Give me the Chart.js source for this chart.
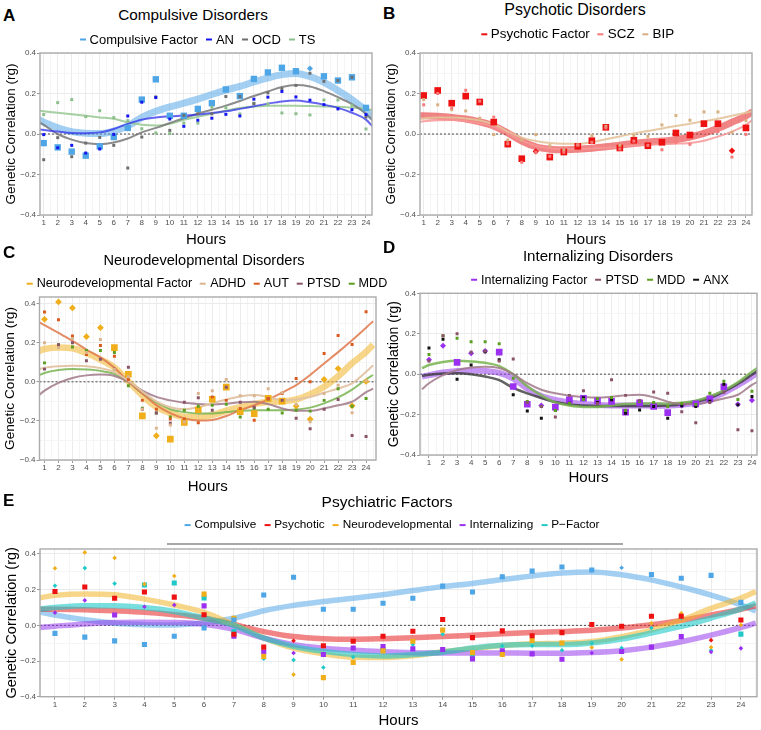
<!DOCTYPE html>
<html>
<head>
<meta charset="utf-8">
<title>Genetic correlation by hour</title>
<script src="https://cdn.jsdelivr.net/npm/chart.js@4.4.1/dist/chart.umd.min.js"></script>
<style>
  body { margin: 0; background: #fff; }
  #fig { position: relative; width: 761px; height: 730px; overflow: hidden;
         font-family: "Liberation Sans", Arial, Helvetica, sans-serif; color: #000; }
  #fig canvas { position: absolute; }
  .txt { position: absolute; white-space: nowrap; line-height: 1; transform: translate(-50%, -50%); }
  .tag { position: absolute; white-space: nowrap; line-height: 1; font-weight: bold; font-size: 17px; transform: translateY(-50%); }
  .legend { position: absolute; display: flex; align-items: center; white-space: nowrap; line-height: 1; transform: translate(-50%, -50%); }
  .legend .item { display: flex; align-items: center; margin-right: 8px; }
  .legend .item:last-child { margin-right: 0; }
  .legend .key { display: inline-block; width: 6px; height: 2px; margin-right: 4px; }
  #rule { position: absolute; left: 167px; top: 543px; width: 456px; height: 1.5px; background: #a8a8a8; }
</style>
</head>
<body>
<div id="fig">
  <canvas id="cA" width="380" height="205" style="left:0;top:45px"></canvas>
  <canvas id="cB" width="381" height="205" style="left:380px;top:45px"></canvas>
  <canvas id="cC" width="380" height="207" style="left:0;top:290px"></canvas>
  <canvas id="cD" width="381" height="203" style="left:380px;top:285px"></canvas>
  <canvas id="cE" width="761" height="190" style="left:0;top:540px"></canvas>

  <div class="tag" style="left:3px;top:15px">A</div>
  <div class="tag" style="left:383px;top:13px">B</div>
  <div class="tag" style="left:3px;top:252px">C</div>
  <div class="tag" style="left:383px;top:247px">D</div>
  <div class="tag" style="left:3px;top:500px">E</div>

  <div class="txt" style="left:193px;top:15px;font-size:15.3px">Compulsive Disorders</div>
  <div class="txt" style="left:575px;top:10px;font-size:16px">Psychotic Disorders</div>
  <div class="txt" style="left:204px;top:260px;font-size:14.6px">Neurodevelopmental Disorders</div>
  <div class="txt" style="left:598px;top:256px;font-size:15.1px">Internalizing Disorders</div>
  <div class="txt" style="left:387px;top:502px;font-size:15.5px">Psychiatric Factors</div>
  <div id="rule"></div>
</div>
<script>
// hours of the day (x axis)
const hours = [1, 2, 3, 4, 5, 6, 7, 8, 9, 10, 11, 12, 13, 14, 15, 16, 17, 18, 19, 20, 21, 22, 23, 24];
const hourLabels = hours.map(String);
// x positions of the smoothed fits (edges + every hour)
const fitHours = [0.5].concat(hours, [24.5]);
// y axis breaks and their labels
const yBreaks = [-0.4, -0.3, -0.2, -0.1, 0, 0.1, 0.2, 0.3, 0.4];
const yTickLabels = ['\u22120.4', '', '\u22120.2', '', '0.0', '', '0.2', '', '0.4'];

// A - compulsive
const compFactor = [-0.045, -0.066, -0.087, -0.107, -0.061, -0.015, 0.030, 0.170, 0.270, 0.090, 0.090, 0.124, 0.152, 0.220, 0.187, 0.272, 0.304, 0.327, 0.310, 0.323, 0.285, 0.264, 0.280, 0.129];
const compShape = 'sssssssssssssssssssdssss';
const an = [-0.003, -0.068, -0.056, -0.094, -0.074, -0.002, 0.089, 0.157, 0.180, 0.074, 0.038, 0.068, 0.078, 0.097, 0.089, 0.172, 0.182, 0.210, 0.183, 0.167, 0.145, 0.124, 0.120, 0.096];
const ocd = [-0.127, -0.018, -0.112, -0.045, -0.017, -0.056, -0.168, -0.015, 0.183, 0.018, 0.092, 0.100, 0.100, 0.185, 0.185, 0.150, 0.203, 0.223, 0.240, 0.300, 0.260, 0.264, 0.280, 0.084];
const ts = [0.096, 0.155, 0.170, 0.086, 0.115, 0.081, 0.066, 0.026, 0.005, 0.002, 0.054, 0.054, 0.132, 0.130, 0.099, 0.152, 0.148, 0.104, 0.100, 0.094, 0.168, 0.168, 0.142, 0.025];
const compFit = [0.075, 0.058, 0.031, 0.012, 0.004, 0.002, 0.014, 0.040, 0.082, 0.112, 0.134, 0.152, 0.172, 0.195, 0.217, 0.235, 0.257, 0.277, 0.293, 0.299, 0.284, 0.255, 0.215, 0.170, 0.115, 0.080];
const anFit = [0.025, 0.020, 0.012, 0.005, 0.004, 0.008, 0.025, 0.050, 0.071, 0.082, 0.087, 0.091, 0.096, 0.104, 0.112, 0.124, 0.137, 0.150, 0.161, 0.165, 0.157, 0.145, 0.129, 0.105, 0.071, 0.035];
const ocdFit = [0.065, 0.045, 0.000, -0.028, -0.045, -0.050, -0.042, -0.022, 0.008, 0.030, 0.054, 0.078, 0.100, 0.120, 0.140, 0.163, 0.188, 0.210, 0.232, 0.242, 0.235, 0.212, 0.182, 0.147, 0.100, 0.065];
const tsFit = [0.117, 0.112, 0.105, 0.098, 0.090, 0.082, 0.075, 0.058, 0.046, 0.042, 0.050, 0.070, 0.085, 0.100, 0.115, 0.128, 0.135, 0.140, 0.140, 0.140, 0.138, 0.136, 0.134, 0.130, 0.124, 0.118];

// B - psychotic
const psyFactor = [0.190, 0.215, 0.152, 0.187, 0.158, 0.059, -0.050, -0.122, -0.086, -0.114, -0.089, -0.061, -0.033, 0.033, -0.069, -0.031, -0.058, -0.041, 0.005, -0.005, 0.051, 0.051, -0.083, 0.030];
const psyShape = 'ssssssssdsssssssssssssds';
const scz = [0.144, 0.200, 0.129, 0.216, 0.162, 0.083, -0.048, -0.140, -0.090, -0.110, -0.090, -0.054, -0.041, 0.030, -0.074, -0.035, -0.056, -0.078, -0.041, -0.051, 0.008, 0.012, -0.114, -0.002];
const bip = [0.170, 0.144, 0.120, 0.114, 0.078, -0.003, -0.030, -0.030, -0.003, -0.058, -0.078, -0.054, -0.008, 0.038, -0.056, -0.008, -0.012, 0.045, 0.091, 0.068, 0.109, 0.109, 0.008, 0.066];
const psyFit = [0.090, 0.090, 0.088, 0.082, 0.074, 0.060, 0.040, 0.005, -0.035, -0.063, -0.075, -0.078, -0.075, -0.070, -0.063, -0.055, -0.047, -0.040, -0.035, -0.028, -0.015, 0.003, 0.028, 0.058, 0.090, 0.110];
const sczFit = [0.058, 0.063, 0.068, 0.069, 0.064, 0.052, 0.036, 0.002, -0.033, -0.058, -0.070, -0.075, -0.075, -0.072, -0.068, -0.064, -0.058, -0.054, -0.050, -0.048, -0.044, -0.033, -0.013, 0.012, 0.045, 0.072];
const bipFit = [0.072, 0.078, 0.082, 0.082, 0.077, 0.067, 0.048, 0.012, -0.018, -0.035, -0.045, -0.048, -0.048, -0.040, -0.026, -0.012, 0.003, 0.015, 0.027, 0.040, 0.051, 0.063, 0.075, 0.090, 0.105, 0.113];

// C - neurodevelopmental
const neuroFactor = [0.320, 0.409, 0.378, 0.231, 0.277, 0.175, 0.039, -0.174, -0.276, -0.293, -0.208, -0.143, -0.089, -0.027, -0.153, -0.163, -0.085, -0.099, -0.124, -0.191, 0.012, 0.068, -0.123, 0.002];
const neuroShape = 'dddddsssdsssssssssdddddd';
const adhd = [0.200, 0.175, 0.221, 0.150, 0.216, 0.063, 0.026, -0.140, -0.238, -0.221, -0.204, -0.060, -0.046, 0.012, -0.071, -0.071, -0.036, -0.056, -0.116, -0.204, -0.060, -0.017, -0.158, 0.005];
const aut = [0.357, 0.318, 0.235, 0.140, 0.186, 0.131, 0.012, -0.095, -0.140, -0.190, -0.190, -0.209, -0.077, -0.095, -0.136, -0.197, -0.085, -0.060, 0.017, 0.000, 0.145, 0.237, 0.191, 0.359];
const ptsd = [0.065, 0.190, 0.200, 0.108, 0.115, 0.065, 0.075, -0.140, -0.160, -0.212, -0.105, -0.082, -0.145, -0.028, -0.105, -0.130, -0.088, -0.095, -0.186, -0.240, -0.140, -0.090, -0.275, -0.280];
const mdd = [0.097, 0.190, 0.178, 0.160, 0.160, 0.150, -0.020, -0.135, -0.160, -0.180, -0.145, -0.125, -0.120, -0.115, -0.180, -0.135, -0.140, -0.160, -0.145, -0.150, -0.095, -0.035, -0.125, -0.085];
const neuroFit = [0.155, 0.168, 0.176, 0.172, 0.147, 0.114, 0.073, 0.003, -0.070, -0.128, -0.160, -0.179, -0.180, -0.170, -0.148, -0.130, -0.113, -0.103, -0.100, -0.090, -0.063, -0.025, 0.029, 0.095, 0.153, 0.190];
const adhdFit = [0.062, 0.072, 0.080, 0.082, 0.080, 0.070, 0.050, 0.005, -0.050, -0.100, -0.130, -0.140, -0.130, -0.110, -0.090, -0.075, -0.068, -0.078, -0.094, -0.090, -0.078, -0.056, -0.034, -0.008, 0.051, 0.085];
const autFit = [0.310, 0.290, 0.250, 0.210, 0.165, 0.125, 0.072, 0.002, -0.060, -0.119, -0.160, -0.187, -0.198, -0.195, -0.175, -0.145, -0.120, -0.090, -0.055, -0.017, 0.035, 0.094, 0.152, 0.213, 0.277, 0.310];
const ptsdFit = [-0.075, -0.045, -0.005, 0.020, 0.033, 0.037, 0.030, 0.000, -0.045, -0.077, -0.095, -0.107, -0.113, -0.116, -0.112, -0.105, -0.102, -0.114, -0.136, -0.148, -0.148, -0.136, -0.120, -0.102, -0.053, -0.035];
const mddFit = [0.030, 0.045, 0.060, 0.066, 0.063, 0.056, 0.040, 0.000, -0.060, -0.105, -0.140, -0.155, -0.162, -0.162, -0.155, -0.148, -0.145, -0.145, -0.146, -0.142, -0.132, -0.110, -0.080, -0.040, 0.012, 0.035];

// D - internalizing
const intFactor = [0.071, 0.140, 0.058, 0.104, 0.114, 0.109, -0.061, -0.149, -0.155, -0.163, -0.127, -0.119, -0.132, -0.135, -0.188, -0.142, -0.160, -0.190, -0.155, -0.147, -0.122, -0.063, -0.149, -0.129];
const intShape = 'ddsddsssdsssssssssdsssdd';
const anx = [0.129, 0.173, -0.025, 0.045, 0.111, 0.071, -0.102, -0.182, -0.218, -0.180, -0.144, -0.117, -0.140, -0.127, -0.193, -0.177, -0.160, -0.218, -0.157, -0.160, -0.134, -0.050, -0.152, -0.111];
const intFit = [-0.012, -0.005, 0.008, 0.016, 0.018, 0.016, 0.006, -0.022, -0.072, -0.108, -0.128, -0.140, -0.148, -0.153, -0.155, -0.155, -0.155, -0.156, -0.156, -0.152, -0.142, -0.122, -0.092, -0.055, -0.012, 0.012];
const anxFit = [-0.008, -0.003, 0.003, 0.005, 0.000, -0.012, -0.030, -0.068, -0.095, -0.118, -0.138, -0.150, -0.155, -0.157, -0.157, -0.157, -0.157, -0.157, -0.155, -0.150, -0.138, -0.118, -0.086, -0.048, -0.003, 0.020];

// E - p-factor
const pFactor = [0.222, 0.321, 0.234, 0.226, 0.237, 0.153, -0.035, -0.187, -0.194, -0.236, -0.178, -0.136, -0.108, -0.050, -0.174, -0.116, -0.114, -0.140, -0.100, -0.127, -0.015, 0.042, -0.140, -0.049];
const pShape = 'dddssssddddsddsdddddddds';
const pFit = [0.092, 0.100, 0.110, 0.110, 0.100, 0.078, 0.041, 0.000, -0.071, -0.118, -0.146, -0.164, -0.172, -0.164, -0.151, -0.127, -0.112, -0.108, -0.108, -0.099, -0.077, -0.043, -0.006, 0.041, 0.092, 0.125];

const col = {
  comp: '#4ea6e6', compBand: 'rgba(86,168,232,0.55)',
  an: '#1414f0', anLine: 'rgba(50,50,235,0.75)',
  ocd: '#6e6e6e', ocdLine: 'rgba(120,120,120,0.85)',
  ts: '#8cbf8c', tsLine: 'rgba(150,200,145,0.85)',
  psy: '#ee1111', psyBand: 'rgba(232,50,50,0.6)',
  scz: '#f77a7a', sczLine: 'rgba(248,150,150,0.85)',
  bip: '#d8b080', bipLine: 'rgba(228,195,155,0.9)',
  neuro: '#efae1a', neuroBand: 'rgba(240,180,40,0.55)',
  adhd: '#d9b48e', adhdLine: 'rgba(226,195,163,0.95)',
  aut: '#d95a1e', autLine: 'rgba(222,120,75,0.85)',
  ptsd: '#8a5468', ptsdLine: 'rgba(160,120,135,0.85)',
  mdd: '#5c9e22', mddLine: 'rgba(120,180,80,0.85)',
  int: '#9b30f0', intBand: 'rgba(150,60,235,0.55)',
  anx: '#111111', anxLine: 'rgba(60,60,60,0.8)',
  pf: '#20c8c8', pfBand: 'rgba(30,200,200,0.6)'
};

Chart.defaults.font.family = '"Liberation Sans", Arial, Helvetica, sans-serif';

// panel border drawn on top like ggplot's panel.border
const framePlugin = {
  id: 'frame',
  afterDatasetsDraw(chart) {
    const a = chart.chartArea, c = chart.ctx;
    c.save();
    c.strokeStyle = '#ababab';
    c.lineWidth = 1.4;
    c.strokeRect(a.left, a.top, a.right - a.left, a.bottom - a.top);
    c.restore();
  }
};

function fitSet(vals, color, width, order) {
  return {
    type: 'line', data: fitHours.map((x, i) => ({x: x, y: vals[i]})),
    borderColor: color, borderWidth: width, pointRadius: 0, fill: false,
    cubicInterpolationMode: 'monotone', order: order
  };
}

function markSet(vals, color, shapes, rs, rd, order) {
  const sh = shapes ? shapes.split('') : null;
  return {
    type: 'line', showLine: false, data: hours.map((x, i) => ({x: x, y: vals[i]})),
    pointBackgroundColor: color, pointBorderWidth: 0,
    pointStyle: sh ? sh.map(c => c === 'd' ? 'rectRot' : 'rect') : 'rect',
    pointRadius: sh ? sh.map(c => c === 'd' ? rd : rs) : rs,
    order: order
  };
}

function zeroSet(g) {
  return {
    type: 'line', data: [{x: g.xMin, y: 0}, {x: g.xMax, y: 0}],
    borderColor: '#4a4a4a', borderWidth: 1, borderDash: [2, 2], pointRadius: 0, order: 9
  };
}

function buildChart(id, g, datasets) {
  const xTicks = hours.flatMap(h => [h - 0.5, h]).concat([24.5]).filter(v => v >= g.xMin && v <= g.xMax);
  new Chart(document.getElementById(id), {
    type: 'line',
    data: { datasets: [zeroSet(g)].concat(datasets) },
    plugins: [framePlugin],
    options: {
      responsive: false, animation: false, events: [], devicePixelRatio: 1,
      layout: { padding: { top: g.top, right: g.right, left: 0, bottom: 0 } },
      plugins: { legend: { display: false }, tooltip: { enabled: false } },
      scales: {
        x: {
          type: 'linear', min: g.xMin, max: g.xMax,
          afterBuildTicks: s => { s.ticks = xTicks.map(v => ({value: v})); },
          afterFit: s => { s.height = g.xH; },
          ticks: {
            autoSkip: false, maxRotation: 0, padding: 0, color: '#4d4d4d', font: { size: 8 },
            callback: v => Number.isInteger(v) ? hourLabels[v - 1] : ''
          },
          grid: {
            color: c => (c.tick && Number.isInteger(c.tick.value)) ? '#ebebeb' : '#f5f5f5',
            tickColor: c => (c.tick && Number.isInteger(c.tick.value)) ? '#9a9a9a' : 'rgba(0,0,0,0)',
            tickLength: 3, lineWidth: 1
          },
          border: { display: false },
          title: { display: true, text: 'Hours', color: '#000', font: { size: 15 }, padding: { top: 0, bottom: g.xPad } }
        },
        y: {
          type: 'linear', min: -0.4, max: g.yMax,
          afterBuildTicks: s => { s.ticks = yBreaks.map(v => ({value: v})); },
          afterFit: s => { s.width = g.yW; },
          ticks: {
            padding: 1, color: '#4d4d4d', font: { size: 8 },
            callback: v => yTickLabels[Math.round(v * 10) + 4]
          },
          grid: {
            color: c => (c.tick && Math.round(c.tick.value * 10) % 2 === 0) ? '#ebebeb' : '#f5f5f5',
            tickColor: c => (c.tick && Math.round(c.tick.value * 10) % 2 === 0) ? '#9a9a9a' : 'rgba(0,0,0,0)',
            tickLength: 3, lineWidth: 1
          },
          border: { display: false },
          title: { display: true, text: 'Genetic Correlation (rg)', color: '#000', font: { size: g.ySize }, padding: { top: g.yPad, bottom: 0 } }
        }
      }
    }
  });
}

function addLegend(x, y, size, items) {
  const box = document.createElement('div');
  box.className = 'legend';
  box.style.left = x + 'px';
  box.style.top = y + 'px';
  box.style.fontSize = size + 'px';
  items.forEach(it => {
    const item = document.createElement('span');
    item.className = 'item';
    const key = document.createElement('span');
    key.className = 'key';
    key.style.background = it[1];
    item.appendChild(key);
    item.appendChild(document.createTextNode(it[0]));
    box.appendChild(item);
  });
  document.getElementById('fig').appendChild(box);
}

// A
buildChart('cA', { top: 8, right: 8, xMin: 0.736, xMax: 24.43, yMax: 0.4, yW: 40, xH: 35, xPad: 1, ySize: 13.5, yPad: 3 }, [
  markSet(an, col.an, null, 2.1, 2.1, 1),
  markSet(ocd, col.ocd, null, 2.1, 2.1, 1),
  markSet(ts, col.ts, null, 2.1, 2.1, 1),
  markSet(compFactor, col.comp, compShape, 4.5, 3, 2),
  fitSet(anFit, col.anLine, 2, 3),
  fitSet(ocdFit, col.ocdLine, 2, 3),
  fitSet(tsFit, col.tsLine, 2, 3),
  fitSet(compFit, col.compBand, 7, 4)
]);
addLegend(197.5, 39, 13, [['Compulsive Factor', col.comp], ['AN', col.an], ['OCD', col.ocd], ['TS', col.ts]]);

// B
buildChart('cB', { top: 8, right: 9, xMin: 0.736, xMax: 24.43, yMax: 0.4, yW: 40, xH: 35, xPad: 1, ySize: 13.5, yPad: 3 }, [
  markSet(scz, col.scz, null, 2.1, 2.1, 1),
  markSet(bip, col.bip, null, 2.1, 2.1, 1),
  markSet(psyFactor, col.psy, psyShape, 4.7, 3.2, 2),
  fitSet(sczFit, col.sczLine, 2, 3),
  fitSet(bipFit, col.bipLine, 2, 3),
  fitSet(psyFit, col.psyBand, 7, 4)
]);
addLegend(577.5, 34.3, 13.4, [['Psychotic Factor', col.psy], ['SCZ', col.scz], ['BIP', col.bip]]);

// C
buildChart('cC', { top: 7, right: 3.3, xMin: 0.643, xMax: 24.71, yMax: 0.434, yW: 39.5, xH: 37, xPad: 1, ySize: 13.7, yPad: 1.8 }, [
  markSet(adhd, col.adhd, null, 2.1, 2.1, 1),
  markSet(aut, col.aut, null, 2.1, 2.1, 1),
  markSet(ptsd, col.ptsd, null, 2.1, 2.1, 1),
  markSet(mdd, col.mdd, null, 2.1, 2.1, 1),
  markSet(neuroFactor, col.neuro, neuroShape, 4.7, 3.4, 2),
  fitSet(adhdFit, col.adhdLine, 2, 3),
  fitSet(autFit, col.autLine, 2, 3),
  fitSet(ptsdFit, col.ptsdLine, 2, 3),
  fitSet(mddFit, col.mddLine, 2, 3),
  fitSet(neuroFit, col.neuroBand, 6.5, 4)
]);
addLegend(207, 283.3, 12.6, [['Neurodevelopmental Factor', col.neuro], ['ADHD', col.adhd], ['AUT', col.aut], ['PTSD', col.ptsd], ['MDD', col.mdd]]);

// D
buildChart('cD', { top: 8.3, right: 3.3, xMin: 0.36, xMax: 24.36, yMax: 0.4, yW: 40, xH: 33, xPad: 1, ySize: 14, yPad: 5.6 }, [
  markSet(ptsd, col.ptsd, null, 2.1, 2.1, 1),
  markSet(mdd, col.mdd, null, 2.1, 2.1, 1),
  markSet(anx, col.anx, null, 2.1, 2.1, 1),
  markSet(intFactor, col.int, intShape, 4.7, 3, 2),
  fitSet(ptsdFit, col.ptsdLine, 2, 3),
  fitSet(mddFit, col.mddLine, 2.5, 3),
  fitSet(anxFit, col.anxLine, 2.5, 3),
  fitSet(intFit, col.intBand, 6, 4)
]);
addLegend(600, 280, 12.5, [['Internalizing Factor', col.int], ['PTSD', col.ptsd], ['MDD', col.mdd], ['ANX', col.anx]]);

// E
buildChart('cE', { top: 9, right: 3.3, xMin: 0.498, xMax: 24.54, yMax: 0.428, yW: 40, xH: 33.3, xPad: 0, ySize: 14.5, yPad: 3.3 }, [
  markSet(compFactor, col.comp, compShape, 3.6, 2.3, 1),
  markSet(psyFactor, col.psy, psyShape, 3.6, 2.3, 1),
  markSet(neuroFactor, col.neuro, neuroShape, 3.6, 2.3, 1),
  markSet(intFactor, col.int, intShape, 3.6, 2.3, 1),
  markSet(pFactor, col.pf, pShape, 3.6, 2.3, 1),
  fitSet(pFit, col.pfBand, 5.5, 3),
  fitSet(intFit, col.intBand, 5.5, 4),
  fitSet(neuroFit, col.neuroBand, 5.5, 5),
  fitSet(psyFit, col.psyBand, 5.5, 6),
  fitSet(compFit, col.compBand, 5.5, 7)
]);
addLegend(392, 525, 11.8, [['Compulsive', col.comp], ['Psychotic', col.psy], ['Neurodevelopmental', col.neuro], ['Internalizing', col.int], ['P\u2212Factor', col.pf]]);
</script>
</body>
</html>
